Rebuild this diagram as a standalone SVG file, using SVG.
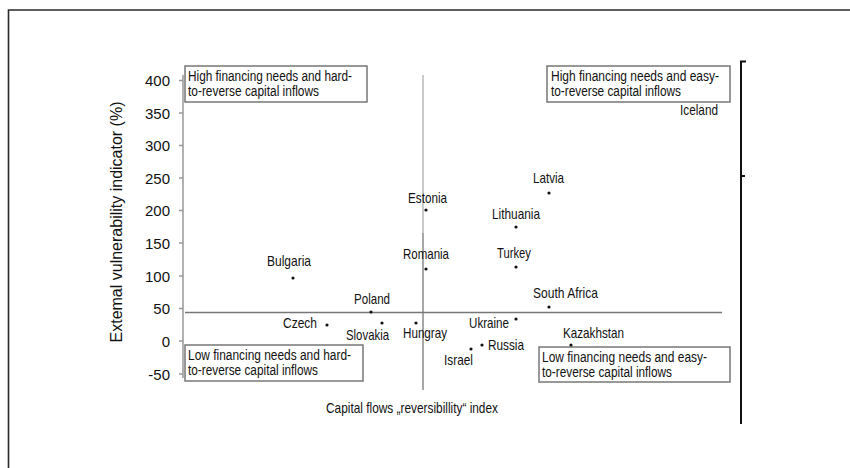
<svg xmlns="http://www.w3.org/2000/svg" width="850" height="468" viewBox="0 0 850 468">
<style>
text{font-family:"Liberation Sans",Arial,sans-serif;fill:#111}
.lbl{font-size:15px}
.bx{font-size:14px}
.tick{font-size:15px;text-anchor:end}
.box{fill:#fff;stroke:#777;stroke-width:1.5}
.dot{fill:#111}
</style>
<rect width="850" height="468" fill="#fff"/>
<path d="M8.5,468 V10 H850" fill="none" stroke="#2a2a2a" stroke-width="1.6"/>
<g id="right-bracket" fill="none" stroke="#111" stroke-width="2">
<path d="M746,61.5 H741 V424"/>
<path d="M741,176 H745"/>
</g>
<g id="y-axis">
<path d="M183,75 V378" stroke="#999" stroke-width="1.5"/>
<g stroke="#999" stroke-width="1.3">
<path d="M179,80.5 H183 M179,113 H183 M179,145.5 H183 M179,178 H183 M179,210.5 H183 M179,243 H183 M179,276 H183 M179,308.5 H183 M179,341 H183 M179,374 H183"/>
</g>
<text class="tick" x="170" y="86">400</text>
<text class="tick" x="170" y="118.5">350</text>
<text class="tick" x="170" y="151">300</text>
<text class="tick" x="170" y="183.5">250</text>
<text class="tick" x="170" y="216">200</text>
<text class="tick" x="170" y="248.5">150</text>
<text class="tick" x="170" y="281.5">100</text>
<text class="tick" x="170" y="314">50</text>
<text class="tick" x="170" y="346.5">0</text>
<text class="tick" x="170" y="379.5">-50</text>
<text x="0" y="0" font-size="16" text-anchor="middle" transform="translate(122,222) rotate(-90)">Extemal vulnerability indicator (%)</text>
</g>
<g id="connectors">
<path d="M423,75 V233" stroke="#b8b8b8" stroke-width="1.5"/>
<path d="M423,233 V390" stroke="#8a8a8a" stroke-width="1.5"/>
<path d="M185,312.5 H722" stroke="#777" stroke-width="1.4"/>
</g>
<text class="lbl" x="326" y="413" textLength="172" lengthAdjust="spacingAndGlyphs">Capital flows „reversibillity“ index</text>
<g id="box-tl">
<rect class="box" x="185" y="66" width="182" height="36"/>
<text class="bx" x="188" y="80.5" textLength="164" lengthAdjust="spacingAndGlyphs">High financing needs and hard-</text>
<text class="bx" x="188" y="96" textLength="131" lengthAdjust="spacingAndGlyphs">to-reverse capital inflows</text>
</g>
<g id="box-tr">
<rect class="box" x="547" y="66" width="183" height="36"/>
<text class="bx" x="551" y="81" textLength="168" lengthAdjust="spacingAndGlyphs">High financing needs and easy-</text>
<text class="bx" x="551" y="96" textLength="130" lengthAdjust="spacingAndGlyphs">to-reverse capital inflows</text>
</g>
<g id="box-bl">
<rect class="box" x="185" y="345" width="178" height="36"/>
<text class="bx" x="188" y="359.5" textLength="163" lengthAdjust="spacingAndGlyphs">Low financing needs and hard-</text>
<text class="bx" x="188" y="375" textLength="130" lengthAdjust="spacingAndGlyphs">to-reverse capital inflows</text>
</g>
<g id="box-br">
<rect class="box" x="539" y="347" width="191" height="35"/>
<text class="bx" x="542" y="361.5" textLength="165" lengthAdjust="spacingAndGlyphs">Low financing needs and easy-</text>
<text class="bx" x="542" y="377" textLength="130" lengthAdjust="spacingAndGlyphs">to-reverse capital inflows</text>
</g>
<g id="iceland"><text class="lbl" x="680" y="115" textLength="38" lengthAdjust="spacingAndGlyphs">Iceland</text></g>
<g id="latvia"><circle class="dot" cx="549" cy="193" r="1.6"/><text class="lbl" x="533" y="183" textLength="31" lengthAdjust="spacingAndGlyphs">Latvia</text></g>
<g id="estonia"><circle class="dot" cx="426" cy="210" r="1.6"/><text class="lbl" x="408" y="203" textLength="39" lengthAdjust="spacingAndGlyphs">Estonia</text></g>
<g id="lithuania"><circle class="dot" cx="516" cy="227" r="1.6"/><text class="lbl" x="492" y="219" textLength="48" lengthAdjust="spacingAndGlyphs">Lithuania</text></g>
<g id="romania"><circle class="dot" cx="426" cy="269" r="1.6"/><text class="lbl" x="403" y="259" textLength="46" lengthAdjust="spacingAndGlyphs">Romania</text></g>
<g id="turkey"><circle class="dot" cx="516" cy="267" r="1.6"/><text class="lbl" x="497" y="258" textLength="34" lengthAdjust="spacingAndGlyphs">Turkey</text></g>
<g id="bulgaria"><circle class="dot" cx="293" cy="278" r="1.6"/><text class="lbl" x="267" y="266" textLength="44" lengthAdjust="spacingAndGlyphs">Bulgaria</text></g>
<g id="south-africa"><circle class="dot" cx="549" cy="307" r="1.6"/><text class="lbl" x="533" y="298" textLength="65" lengthAdjust="spacingAndGlyphs">South Africa</text></g>
<g id="poland"><circle class="dot" cx="371" cy="312" r="1.6"/><text class="lbl" x="354" y="304" textLength="36" lengthAdjust="spacingAndGlyphs">Poland</text></g>
<g id="czech"><circle class="dot" cx="327" cy="325" r="1.6"/><text class="lbl" x="283" y="328" textLength="34" lengthAdjust="spacingAndGlyphs">Czech</text></g>
<g id="slovakia"><circle class="dot" cx="382" cy="323" r="1.6"/><text class="lbl" x="346" y="340" textLength="43" lengthAdjust="spacingAndGlyphs">Slovakia</text></g>
<g id="hungray"><circle class="dot" cx="416" cy="323" r="1.6"/><text class="lbl" x="403" y="338" textLength="44" lengthAdjust="spacingAndGlyphs">Hungray</text></g>
<g id="ukraine"><circle class="dot" cx="516" cy="319" r="1.6"/><text class="lbl" x="469" y="328" textLength="40" lengthAdjust="spacingAndGlyphs">Ukraine</text></g>
<g id="russia"><circle class="dot" cx="482" cy="345" r="1.6"/><text class="lbl" x="488" y="350" textLength="36" lengthAdjust="spacingAndGlyphs">Russia</text></g>
<g id="israel"><circle class="dot" cx="471" cy="349" r="1.6"/><text class="lbl" x="444" y="365" textLength="29" lengthAdjust="spacingAndGlyphs">Israel</text></g>
<g id="kazakhstan"><circle class="dot" cx="571" cy="345" r="1.6"/><text class="lbl" x="563" y="338" textLength="61" lengthAdjust="spacingAndGlyphs">Kazakhstan</text></g>
</svg>
